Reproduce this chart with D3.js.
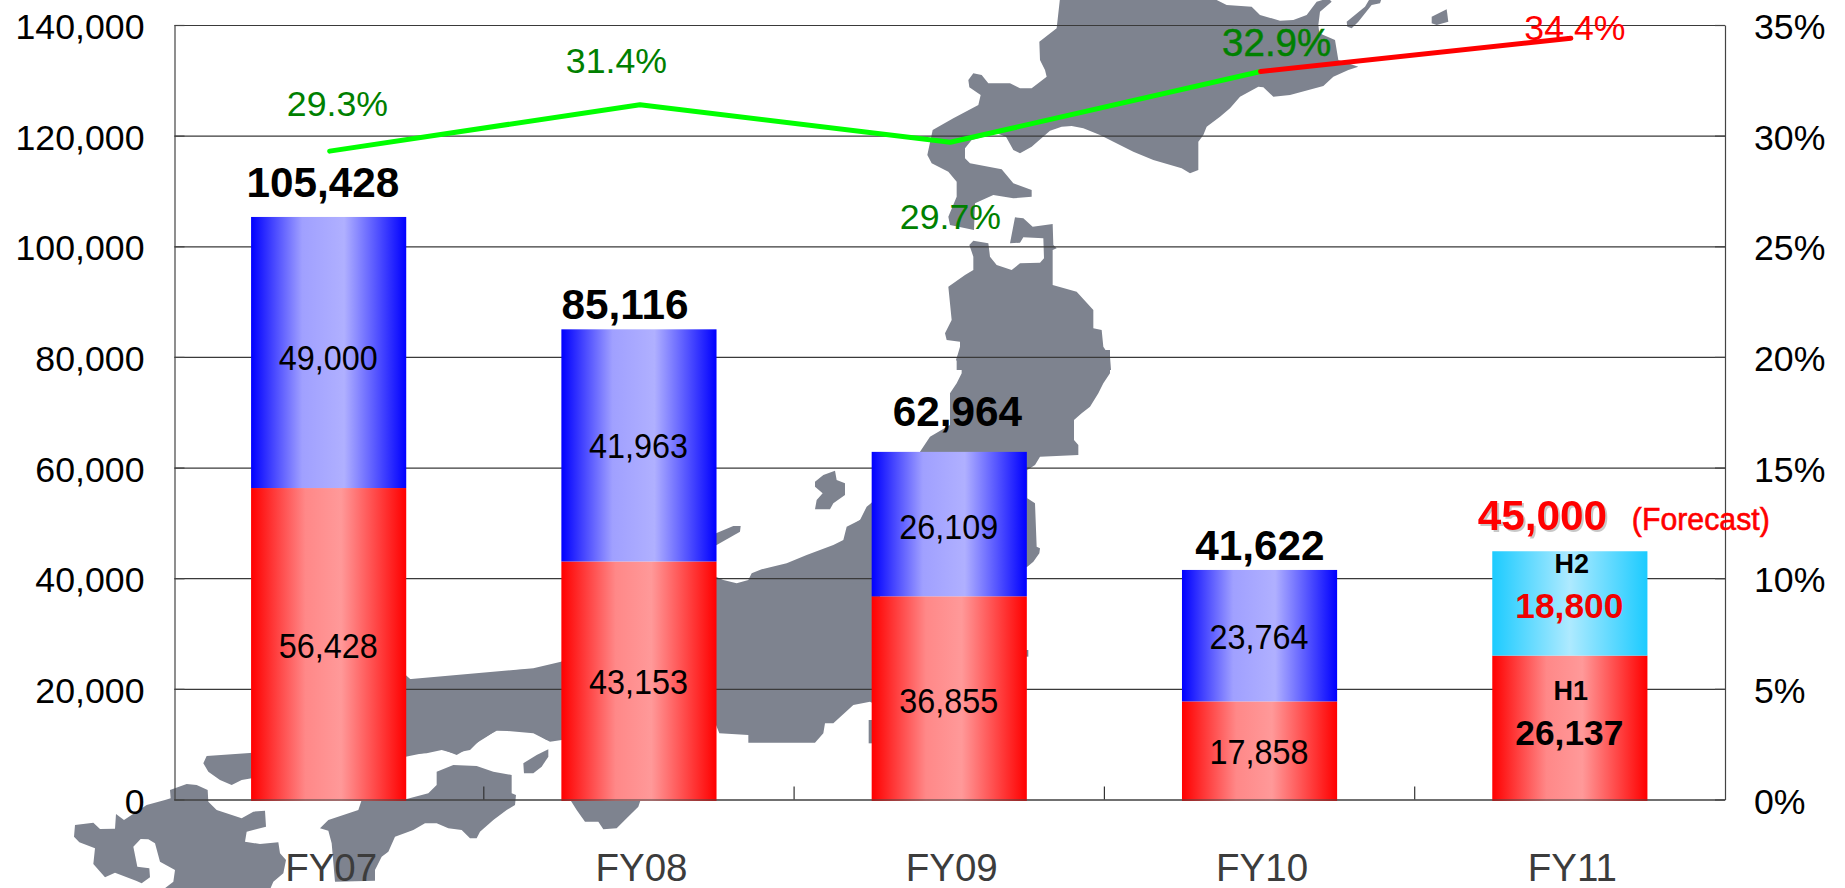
<!DOCTYPE html>
<html><head><meta charset="utf-8">
<script src="https://cdn.jsdelivr.net/npm/d3@7"></script>
<style>
html,body{margin:0;padding:0;background:#fff;overflow:hidden}
svg{display:block}
text{font-family:"Liberation Sans",Arial,sans-serif}
</style></head><body>
<svg id="chart" width="1845" height="888"></svg>
<script>
// ---------- data ----------
const categories = ["FY07","FY08","FY09","FY10","FY11"];
const firstHalf  = [56428,43153,36855,17858,26137];
const secondHalf = [49000,41963,26109,23764,18800];
const totals     = [105428,85116,62964,41622,45000];
const marginPct  = [29.3,31.4,29.7,32.9,34.4];
const leftTicks  = [0,20000,40000,60000,80000,100000,120000,140000];
const rightTicks = [0,5,10,15,20,25,30,35];

// ---------- hand placed label geometry (offsets from each mark, px) ----------
const totalDx  = [-5.7,-14,8.2,0.4,-27.4];
const totalBase= [197,319,426,560,530];
const lowBase  = [658,694,712.5,764,745];
const upBase   = [370,458,539,649,618];
const pctDx    = [8.8,-22.5,1.2,17.1,5.1];
const pctBase  = [116,72.5,229,56,40];

// ---------- background map outline, traced as [originX, originY, crop points at 3x] ----------
const mapShapes = [
 // Kyushu
 [60,640,[[330,450],[380,432],[410,435],[443,450],[445,485],[470,510],[545,535],[580,515],[615,512],[618,560],[560,575],[555,605],[600,612],[655,607],[660,640],[678,660],[670,700],[640,725],[625,760],[295,760],[340,725],[345,690],[300,665],[285,610],[265,598],[242,597],[220,620],[232,680],[268,685],[270,712],[245,730],[228,722],[165,698],[135,712],[100,672],[105,625],[58,607],[42,590],[45,555],[100,548],[120,567],[165,566],[168,522],[192,540],[260,495],[315,480],[332,475]]],
 // Shikoku
 [60,640,[[780,565],[805,540],[895,510],[905,480],[1037,478],[1105,460],[1130,435],[1130,395],[1180,375],[1250,378],[1300,395],[1355,405],[1355,460],[1368,465],[1365,495],[1340,510],[1300,540],[1260,575],[1250,595],[1230,595],[1205,570],[1165,565],[1130,550],[1095,550],[1060,570],[1005,590],[985,635],[965,650],[945,690],[945,722],[825,725],[815,610],[805,572]]],
 // Yamaguchi end of Honshu
 [60,640,[[440,348],[580,338],[700,330],[700,400],[575,415],[545,420],[515,435],[480,420],[445,395],[430,370]]],
 // Awaji
 [60,640,[[1390,370],[1430,345],[1465,328],[1465,350],[1445,380],[1420,400],[1392,400]]],
 // Western Honshu band (behind FY07-FY08)
 [60,640,[[1000,100],[1037,105],[1060,125],[1090,115],[1140,115],[1180,125],[1180,115],[1300,105],[1370,90],[1465,85],[1520,62],[1520,298],[1470,305],[1420,280],[1310,270],[1280,290],[1225,325],[1190,345],[1140,325],[1110,335],[1037,350],[1000,352]]],
 // Central Honshu
 [400,520,[[400,445],[483,425],[700,300],[948,170],[970,180],[1010,190],[1045,180],[1055,160],[1085,148],[1160,130],[1220,105],[1300,75],[1330,60],[1340,20],[1380,0],[1440,-40],[1440,560],[1410,545],[1360,555],[1300,610],[1275,610],[1270,640],[1245,668],[1045,668],[1045,645],[958,640],[948,615],[700,660],[483,655],[440,660],[395,632],[290,632],[240,660],[210,690],[160,700],[125,690],[80,700],[0,705],[0,480]]],
 // Noto fragment by FY08 bar
 [400,520,[[900,60],[1000,18],[1022,18],[1020,35],[950,75],[900,90]]],
 // Kii
 [400,520,[[505,830],[725,830],[715,860],[680,895],[650,925],[610,928],[595,905],[555,905],[530,870]]],
 // Izu and Boso slivers
 [600,400,[[806,960],[860,960],[860,1030],[806,1030]]],
 [600,400,[[1270,750],[1285,750],[1285,770],[1270,770]]],
 // Northern Honshu
 [850,350,[[50,470],[63,460],[120,400],[210,305],[240,260],[300,225],[300,130],[320,100],[335,70],[335,45],[318,30],[330,0],[780,0],[780,70],[760,100],[745,130],[720,170],[695,190],[672,210],[672,270],[685,285],[685,315],[570,320],[555,345],[532,360],[532,445],[555,460],[560,590],[570,595],[568,610],[550,635],[532,650],[300,700],[0,700],[0,530],[30,510]]],
 // Tohoku tip
 [850,0,[[320,1075],[330,1040],[330,1025],[290,1020],[285,1000],[305,960],[295,860],[345,825],[370,810],[370,770],[358,735],[370,722],[415,730],[420,770],[440,795],[485,810],[510,790],[570,788],[582,775],[580,715],[520,712],[510,728],[480,730],[495,652],[520,655],[548,680],[608,672],[610,735],[620,745],[608,750],[608,855],[680,875],[730,930],[730,985],[755,990],[760,1040],[780,1070],[783,1110],[320,1110]]],
 // Sado
 [600,400,[[645,245],[670,225],[705,212],[710,240],[735,250],[735,285],[700,310],[690,328],[645,328],[650,300],[668,280],[645,260]]],
 // Hokkaido
 [850,0,[[630,-5],[1090,-5],[1130,15],[1205,20],[1230,45],[1290,62],[1330,60],[1370,45],[1400,5],[1435,-5],[1445,5],[1410,35],[1405,75],[1408,100],[1455,120],[1465,180],[1525,200],[1495,210],[1450,230],[1420,258],[1320,285],[1270,290],[1240,262],[1225,260],[1170,290],[1140,325],[1110,350],[1070,380],[1060,405],[1045,425],[1045,510],[1020,520],[995,505],[910,480],[850,455],[750,405],[700,385],[665,378],[635,380],[600,392],[545,440],[510,460],[490,450],[468,410],[440,400],[365,420],[345,445],[345,475],[360,490],[455,508],[490,550],[545,570],[545,590],[490,595],[430,585],[375,610],[372,690],[300,675],[295,650],[320,590],[320,545],[295,515],[245,490],[232,465],[248,390],[310,355],[385,315],[392,285],[358,262],[355,240],[370,220],[395,225],[415,250],[480,250],[510,265],[545,265],[590,230],[585,210],[570,180],[568,125],[620,85]]],
 // Kuril fragments
 [1000,0,[[1040,65],[1095,20],[1110,-5],[1145,-5],[1140,10],[1115,15],[1075,65],[1055,85],[1042,80]]],
 [1000,0,[[1295,50],[1340,28],[1345,65],[1310,75],[1295,70]]]
];

// ---------- setup ----------
const svg = d3.select("#chart");
const plotL=174.5, plotR=1725, plotT=25, plotB=799.5;
const x = d3.scaleBand().domain(categories).range([173.5,plotR]).paddingInner(0.5).paddingOuter(0.25);
const y = d3.scaleLinear().domain([0,140000]).range([plotB,plotT]);
const yR= d3.scaleLinear().domain([0,35]).range([plotB,plotT]);
const cx = c => x(c)+x.bandwidth()/2;
const barY = v => y(v)+0.7;

// gradients
const defs = svg.append("defs");
[["gBlue",[[0,"#0000ff"],[.33,"#a0a0ff"],[.6,"#b0b0ff"],[1,"#0000ff"]]],
 ["gRed",[[0,"#ff0000"],[.35,"#ff8888"],[.58,"#ff9999"],[1,"#ff0000"]]],
 ["gCyan",[[0,"#1ccbff"],[.5,"#aeeaff"],[1,"#1ccbff"]]]].forEach(([id,st])=>{
  const g=defs.append("linearGradient").attr("id",id);
  st.forEach(s=>g.append("stop").attr("offset",s[0]).attr("stop-color",s[1]));
});

// map
svg.append("g").selectAll("path").data(mapShapes).join("path")
  .attr("d",s=>d3.line()(s[2].map(p=>[s[0]+p[0]/3,s[1]+p[1]/3]))+"Z")
  .attr("fill","#7e838f");

// gridlines
svg.append("g").attr("transform",`translate(${plotL},0)`)
  .call(d3.axisLeft(y).tickValues(leftTicks).tickSize(-(plotR-plotL)).tickFormat(""))
  .call(g=>g.select(".domain").remove())
  .call(g=>g.selectAll("line").attr("stroke","#3a3a3a").attr("stroke-width",1.2));

// bars
const bars=svg.append("g");
bars.selectAll(".low").data(categories).join("rect").attr("class","low")
  .attr("x",c=>x(c)).attr("width",x.bandwidth())
  .attr("y",(c,i)=>barY(firstHalf[i])).attr("height",(c,i)=>barY(0)-barY(firstHalf[i])+0.8)
  .attr("fill","url(#gRed)");
bars.selectAll(".up").data(categories).join("rect").attr("class","up")
  .attr("x",c=>x(c)).attr("width",x.bandwidth())
  .attr("y",(c,i)=>barY(totals[i]))
  .attr("height",(c,i)=>barY(firstHalf[i])-barY(totals[i]))
  .attr("fill",(c,i)=>i===4?"url(#gCyan)":"url(#gBlue)");

// axes
const axisStyle=g=>{g.selectAll("line,.domain").attr("stroke","#444").attr("stroke-width",1.2);
  g.selectAll("text").attr("font-size",35.7).attr("fill","#000")
   .attr("font-family","Liberation Sans").attr("dy",0).attr("y",13.5);};
svg.append("g").attr("transform",`translate(${plotL},0)`)
  .call(d3.axisLeft(y).tickValues(leftTicks).tickSize(-10).tickSizeOuter(0).tickPadding(30).tickFormat(d3.format(",")))
  .call(axisStyle);
svg.append("g").attr("transform",`translate(${plotR},0)`)
  .call(d3.axisRight(yR).tickValues(rightTicks).tickSize(-10).tickSizeOuter(0).tickPadding(29).tickFormat(d=>d+"%"))
  .call(axisStyle);
const xAxis=svg.append("g").attr("transform",`translate(0,${plotB})`)
  .call(d3.axisBottom(x).tickSize(0).tickSizeOuter(0))
  .call(g=>g.select(".domain").attr("stroke","#444").attr("stroke-width",1.2));
xAxis.selectAll("text").attr("font-size",38.5).attr("fill","#3c3c3c")
  .attr("font-family","Liberation Sans").attr("y",81.5).attr("dy",0).attr("dx",2.5);
xAxis.append("g").selectAll("line").data(categories.slice(1)).join("line")
  .attr("x1",c=>x(c)-x.step()*.25).attr("x2",c=>x(c)-x.step()*.25)
  .attr("y1",-13).attr("y2",0).attr("stroke","#333").attr("stroke-width",1.2);

// margin line
const ln=d3.line().x(d=>cx(d.c)+1).y(d=>yR(d.v));
const pts=categories.map((c,i)=>({c,v:marginPct[i]}));
svg.append("path").attr("d",ln(pts.slice(0,4))).attr("fill","none").attr("stroke","#00ff00")
  .attr("stroke-width",5).attr("stroke-linecap","round").attr("stroke-linejoin","round");
svg.append("path").attr("d",ln(pts.slice(3))).attr("fill","none").attr("stroke","#ff0000")
  .attr("stroke-width",5).attr("stroke-linecap","round");

// labels
const lab=svg.append("g").attr("text-anchor","middle");
lab.selectAll(".pct").data(categories).join("text").attr("class","pct")
  .attr("x",(c,i)=>cx(c)+pctDx[i]).attr("y",(c,i)=>pctBase[i])
  .attr("font-size",(c,i)=>i===3?38.5:35.7)
  .attr("fill",(c,i)=>i===4?"#ff0000":"#008000")
  .attr("stroke",(c,i)=>i===3?"#008000":"none").attr("stroke-width",.5)
  .text((c,i)=>marginPct[i].toFixed(1)+"%");
lab.selectAll(".tot").data(categories).join("text").attr("class","tot")
  .attr("x",(c,i)=>cx(c)+totalDx[i]).attr("y",(c,i)=>totalBase[i])
  .attr("font-size",42.3).attr("font-weight","bold")
  .attr("fill",(c,i)=>i===4?"#ff0000":"#000")
  .style("filter",(c,i)=>i===4?"drop-shadow(2px 2px 0 #c8c8c8)":null)
  .text((c,i)=>d3.format(",")(totals[i]));
const segStyle=(sel,vals,base)=>sel
  .attr("x",c=>cx(c)-0.5).attr("y",(c,i)=>base[i])
  .attr("font-size",35).attr("textLength",(c,i)=>i===4?108:99).attr("lengthAdjust","spacingAndGlyphs")
  .attr("font-weight",(c,i)=>i===4?"bold":"normal")
  .text((c,i)=>d3.format(",")(vals[i]));
lab.selectAll(".sl").data(categories).join("text").attr("class","sl").call(segStyle,firstHalf,lowBase).attr("fill","#000");
lab.selectAll(".su").data(categories).join("text").attr("class","su").call(segStyle,secondHalf,upBase)
  .attr("fill",(c,i)=>i===4?"#f00000":"#000");
const fx=cx("FY11");
lab.append("text").attr("x",fx+2).attr("y",573).attr("font-size",27).attr("font-weight","bold").text("H2");
lab.append("text").attr("x",fx+1).attr("y",700).attr("font-size",27).attr("font-weight","bold").text("H1");
lab.append("text").attr("x",fx+131).attr("y",530).attr("font-size",31).attr("font-weight","normal")
  .attr("textLength",138).attr("lengthAdjust","spacingAndGlyphs").attr("fill","#ff0000")
  .attr("stroke","#ff0000").attr("stroke-width",.6).text("(Forecast)");
</script>
</body></html>
